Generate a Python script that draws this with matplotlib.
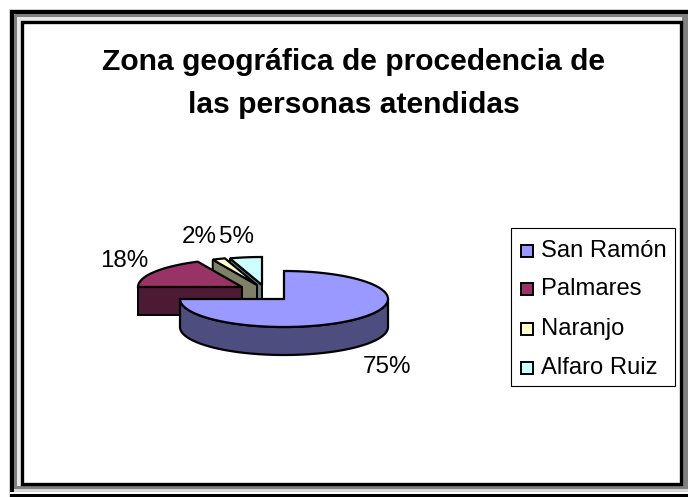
import numpy as np
import matplotlib
matplotlib.use("Agg")
import matplotlib.pyplot as plt
from matplotlib.patches import Polygon, Rectangle

categories = ["San Ramón", "Palmares", "Naranjo", "Alfaro Ruiz"]
values = [75, 18, 2, 5]
title_lines = "Zona geográfica de procedencia de\nlas personas atendidas"

top_colors = ["#9999FF", "#993366", "#FFFFCC", "#CCFFFF"]
side_colors = ["#4D4D80", "#4D1A33", "#808066", "#668080"]
centers = [(284, 299), (242, 287), (257, 285), (262, 285)]
label_pos = [(387, 367), (124, 261), (199, 237), (237, 237)]
RX, RY, DEPTH = 104, 28, 28

W, H = 688, 497
fig = plt.figure(figsize=(W / 100, H / 100), dpi=100)
ax = fig.add_axes([0, 0, 1, 1])
ax.set_xlim(0, W)
ax.set_ylim(H, 0)
ax.axis("off")
plt.rcParams["font.family"] = ["Liberation Sans", "DejaVu Sans"]

# Frame
ax.add_patch(Rectangle((0, 0), W, H, fc="white", ec="none"))
ax.add_patch(Rectangle((9, 9), W - 9, H - 9, fc="#D0D0D0", ec="none"))
ax.add_patch(Rectangle((10, 10), W - 10, H - 10, fc="black", ec="none"))
ax.add_patch(Rectangle((14, 14), W - 14, 475, fc="#808080", ec="none"))
ax.add_patch(Rectangle((14, 489), W - 14, 2.5, fc="#D8D8D8", ec="none"))
ax.add_patch(Rectangle((10, 491.5), W - 10, 2.5, fc="white", ec="none"))
ax.add_patch(Rectangle((17, 17), 665, 469, fc="#E8E8E8", ec="none"))
ax.add_patch(Rectangle((21.5, 21.5), 659, 462.5, fc="white", ec="black", lw=2.4))

line1, line2 = title_lines.split("\n")
ax.text(353.5, 61.5, line1, ha="center", va="center",
        fontsize=21.6, fontweight="bold", color="black")
ax.text(353.5, 105, line2, ha="center", va="center",
        fontsize=21.6, fontweight="bold", color="black")


def ell(c, ang, dy=0.0):
    a = np.radians(ang)
    return np.column_stack([c[0] + RX * np.cos(a), c[1] - RY * np.sin(a) + dy])


cum = np.cumsum([0] + values)
for i in [3, 2, 1, 0]:
    c = centers[i]
    th1 = 90 - 3.6 * cum[i]
    th2 = 90 - 3.6 * cum[i + 1]
    arc_angles = np.linspace(th1, th2, max(int(abs(th2 - th1)), 4))
    arc = ell(c, arc_angles)
    # cut faces that turn towards the viewer
    for th, sign in ((th1, 1), (th2, -1)):
        if sign * np.cos(np.radians(th)) < -1e-6:
            p = ell(c, np.array([th]))[0]
            face = [c, p, (p[0], p[1] + DEPTH), (c[0], c[1] + DEPTH)]
            ax.add_patch(Polygon(face, closed=True, fc=side_colors[i], ec="black", lw=1.4))
    # outer rim: only the front half of the ellipse
    low = np.sin(np.radians(arc_angles)) <= 1e-6
    if low.sum() > 1:
        rim_top = ell(c, arc_angles[low])
        rim_bot = ell(c, arc_angles[low], DEPTH)
        ax.add_patch(Polygon(np.vstack([rim_top, rim_bot[::-1]]), closed=True,
                             fc=side_colors[i], ec="black", lw=1.6))
    ax.add_patch(Polygon(np.vstack([[c], arc]), closed=True, fc=top_colors[i],
                         ec="black", lw=1.6, joinstyle="miter"))

total = sum(values)
for v, (x, y) in zip(values, label_pos):
    ax.text(x, y, f"{round(100 * v / total)}%", ha="center", va="center",
            fontsize=17.4, color="black")

# Legend
ax.add_patch(Rectangle((511, 228), 164, 158, fc="white", ec="black", lw=0.8))
leg_y = [250, 288, 328, 367]
for name, col, y in zip(categories, top_colors, leg_y):
    ax.add_patch(Rectangle((520.5, y - 5), 12, 12, fc=col, ec="black", lw=1.4))
    ax.text(541, y + 1, name, ha="left", va="center", fontsize=17.1, color="black")

fig.savefig("out.png", dpi=100)
